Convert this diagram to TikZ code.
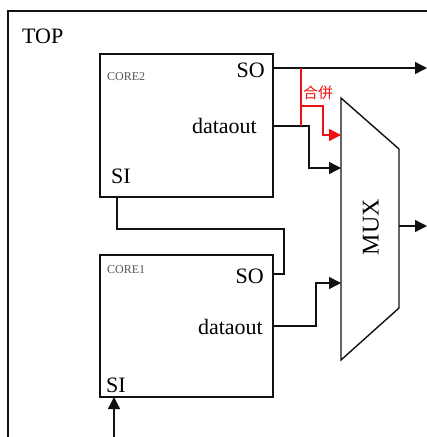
\documentclass[tikz,border=0pt]{standalone}
\usepackage{fontspec}
\setmainfont{Liberation Serif}
\newfontfamily\cjk{Noto Sans CJK TC}
\usepackage{xcolor}
\definecolor{cWire}{HTML}{111111}
\definecolor{cMerge}{HTML}{EE1111}
\definecolor{cName}{HTML}{555555}
\usetikzlibrary{positioning,arrows.meta,calc}
\tikzset{
  node-core/.style={draw=cWire,line width=1.4pt,minimum width=173pt,
    minimum height=143pt,inner sep=0pt},
  node-port/.style={font=\fontsize{22}{24}\selectfont,inner sep=0pt},
  node-name/.style={font=\fontsize{12}{13}\selectfont,text=cName,inner sep=0pt},
  wire/.style={line width=1.4pt,draw=cWire},
  wire-merge/.style={line width=1.4pt,draw=cMerge},
  arrow/.style={-{Triangle[length=12pt,width=12pt]},wire},
  arrow-merge/.style={-{Triangle[length=12pt,width=12pt]},wire-merge},
}
\begin{document}
\begin{tikzpicture}[x=1pt,y=-1pt]
  \useasboundingbox (0,0) rectangle (427,437);
  % TOP frame
  \draw[wire] (8,437) |- (427,11);
  \node[node-port,anchor=base west] (top) at (22,43) {TOP};
  % cores
  \node[node-core] (core2) at (186.5,125.5) {};
  \node[node-core,minimum height=142pt] (core1) at (186.5,326) {};
  \node[node-name,anchor=base west] (core2-name) at (107,80) {CORE2};
  \node[node-name,anchor=base west] (core1-name) at (107,273) {CORE1};
  \node[node-port,anchor=base east] (core2-so) at (265,77) {SO};
  \node[node-port,anchor=base east] (core2-do) at (257,133) {dataout};
  \node[node-port,anchor=base west] (core2-si) at (111,183) {SI};
  \node[node-port,anchor=base east] (core1-so) at (264,283) {SO};
  \node[node-port,anchor=base east] (core1-do) at (263,334) {dataout};
  \node[node-port,anchor=base west] (core1-si) at (106,392) {SI};
  % MUX
  \draw[wire] (341,98) -- (399,149) -- (399,308) -- (341,360) -- cycle;
  \node[node-port,rotate=90,font=\fontsize{24}{26}\selectfont] (mux) at (371,227) {MUX};
  % pins
  \coordinate (c2-so) at (273,68);
  \coordinate (c2-do) at (273,126);
  \coordinate (c2-si) at (117,197);
  \coordinate (c1-so) at (273,274);
  \coordinate (c1-do) at (273,326);
  \coordinate (c1-si) at (114,397);
  \coordinate (si-in) at (114,437);
  \coordinate (so-out) at (427,68);
  \coordinate (mux-in1) at (341,135);
  \coordinate (mux-in2) at (341,168);
  \coordinate (mux-in3) at (341,283);
  \coordinate (mux-out) at (399,226);
  \coordinate (mux-y) at (427,226);
  \coordinate (m-top) at (301,68);
  \coordinate (m-bot) at (301,126);
  \coordinate (m-tap) at (301,106);
  % connections
  \draw[arrow] (c2-so) -- (so-out);
  \draw[arrow] (c2-do) -- (309,126) |- (mux-in2);
  \draw[wire-merge] (m-top) -- (m-bot);
  \draw[arrow-merge] (m-tap) -| ($(mux-in1)+(-18,0)$) -- (mux-in1);
  \node[inner sep=0pt,text=cMerge,font=\cjk\fontsize{15}{15}\selectfont]
    (merge) at (318,93) {合併};
  \draw[wire] (c2-si) -- (117,229) -| (284,274) -- (c1-so);
  \draw[arrow] (c1-do) -- (316,326) |- (mux-in3);
  \draw[arrow] (si-in) -- (c1-si);
  \draw[arrow] (mux-out) -- (mux-y);
\end{tikzpicture}
\end{document}
